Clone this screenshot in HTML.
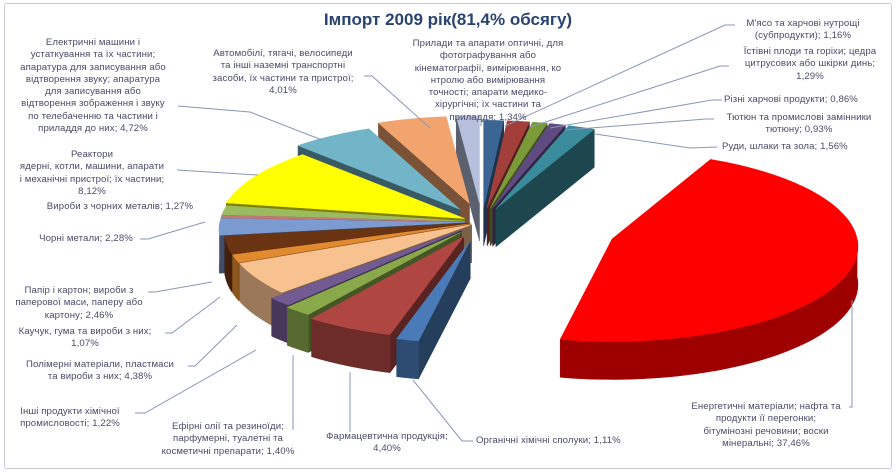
<!DOCTYPE html>
<html><head><meta charset="utf-8">
<style>
html,body{margin:0;padding:0;background:#fff;}
#wrap{position:relative;width:896px;height:473px;overflow:hidden;font-family:"Liberation Sans","DejaVu Sans",sans-serif;}
#frame{position:absolute;left:4px;top:3px;width:886px;height:464px;border:1.5px solid #c9ccd8;border-radius:3px;}
.lbl{position:absolute;font-size:9.6px;line-height:12.3px;color:#4a4a68;text-align:center;white-space:nowrap;letter-spacing:0.1px;}
#title{position:absolute;left:0;width:896px;top:10px;text-align:center;font-weight:bold;font-size:17px;color:#2a4470;}
svg{position:absolute;left:0;top:0;}
</style></head>
<body>
<div id="wrap">
<div id="frame"></div>
<div id="title">Імпорт 2009 рік(81,4% обсягу)</div>
<svg id="pie" width="896" height="473"></svg>

<div class="lbl" style="left:4px;top:37px;width:178px;">Електричні машини і<br>устаткування та їх частини;<br>апаратура для записування або<br>відтворення звуку; апаратура<br>для записування або<br>відтворення зображення і звуку<br>по телебаченню та частини і<br>приладдя до них; 4,72%</div>
<div class="lbl" style="left:198px;top:48px;width:170px;">Автомобілі, тягачі, велосипеди<br>та інші наземні транспортні<br>засоби, їх частини та пристрої;<br>4,01%</div>
<div class="lbl" style="left:398px;top:38px;width:180px;">Прилади та апарати оптичні, для<br>фотографування або<br>кінематографії, вимірювання,  ко<br>нтролю або вимірювання<br>точності; апарати медико-<br>хірургічні; їх частини та<br>приладдя; 1,34%</div>
<div class="lbl" style="left:728px;top:18px;width:150px;">М'ясо та харчові нутрощі<br>(субпродукти); 1,16%</div>
<div class="lbl" style="left:728px;top:46px;width:164px;">Їстівні плоди та горіхи; цедра<br>цитрусових або шкірки динь;<br>1,29%</div>
<div class="lbl" style="left:724px;top:94px;width:160px;text-align:left;">Різні харчові продукти; 0,86%</div>
<div class="lbl" style="left:716px;top:112px;width:166px;">Тютюн та промислові замінники<br>тютюну; 0,93%</div>
<div class="lbl" style="left:722px;top:141px;width:160px;text-align:left;">Руди, шлаки та зола; 1,56%</div>
<div class="lbl" style="left:680px;top:401px;width:172px;">Енергетичні матеріали;  нафта та<br>продукти її перегонки;<br>бітумінозні речовини;  воски<br>мінеральні; 37,46%</div>
<div class="lbl" style="left:476px;top:435px;width:180px;text-align:left;">Органічні хімічні сполуки; 1,11%</div>
<div class="lbl" style="left:312px;top:431px;width:150px;">Фармацевтична продукція;<br>4,40%</div>
<div class="lbl" style="left:152px;top:421px;width:152px;">Ефірні олії та резиноїди;<br>парфумерні, туалетні та<br>косметичні препарати;  1,40%</div>
<div class="lbl" style="left:8px;top:406px;width:124px;">Інші продукти хімічної<br>промисловості; 1,22%</div>
<div class="lbl" style="left:12px;top:359px;width:176px;">Полімерні матеріали, пластмаси<br>та вироби з них; 4,38%</div>
<div class="lbl" style="left:4px;top:326px;width:162px;">Каучук, гума та вироби з них;<br>1,07%</div>
<div class="lbl" style="left:6px;top:285px;width:146px;">Папір і картон; вироби з<br>паперової маси, паперу або<br>картону; 2,46%</div>
<div class="lbl" style="left:26px;top:233px;width:120px;">Чорні метали; 2,28%</div>
<div class="lbl" style="left:30px;top:201px;width:180px;">Вироби з чорних металів; 1,27%</div>
<div class="lbl" style="left:4px;top:149px;width:176px;">Реактори<br>ядерні, котли, машини, апарати<br>і механічні пристрої; їх частини;<br>8,12%</div>
</div>
<script>
const categories = ["М'ясо","Їстівні плоди","Різні харчові","Тютюн","Руди","Енергетичні","Органічні","Фармацевтична","Ефірні олії","Інші хімічні","Полімерні","Каучук","Папір","Чорні метали","Інше","Вироби з чорних","Реактори","Електричні","Автомобілі","Прилади"];
const values = [1.16,1.29,0.86,0.93,1.56,37.46,1.11,4.40,1.40,1.22,4.38,1.07,2.46,2.28,0.36,1.27,8.12,4.72,4.01,1.34];
const colors = ["#3b6593","#a23f3b","#7b9b3a","#5f4a82","#3a8c9c","#ff0000","#4a7bb8","#b04642","#8aa94a","#725a92","#f8c190","#e28a30","#6a3312","#7c9bd0","#c47878","#9bbb60","#ffff00","#72b4c8","#f2a46e","#b6c0dc"];
const explode = [0.15,0.15,0.15,0.15,0.15,0.56,0.2,0.17,0.14,0.12,0.05,0.05,0.05,0.07,0.07,0.07,0.08,0.16,0.2,0.2];

const svg=document.getElementById('pie');
const NS='http://www.w3.org/2000/svg';
const cx=482, cy=222, rx=245, ry=95, persp=0.08, depth=38;
function P(x0,y0,th){const r=th*Math.PI/180;const s=1-persp*Math.cos(r);return [x0+rx*s*Math.sin(r), y0-ry*s*Math.cos(r)];}
function shade(hex,f){const n=parseInt(hex.slice(1),16);const r=Math.round(((n>>16)&255)*f),g=Math.round(((n>>8)&255)*f),b=Math.round((n&255)*f);return 'rgb('+r+','+g+','+b+')';}
function poly(pts,fill,name){const p=document.createElementNS(NS,'polygon');p.setAttribute('points',pts.map(q=>q[0].toFixed(1)+','+q[1].toFixed(1)).join(' '));p.setAttribute('fill',fill);p.setAttribute('stroke',fill);p.setAttribute('stroke-width','0.5');


return p;}
const total=values.reduce((a,b)=>a+b,0);
let acc=0;const slices=[];
values.forEach((v,i)=>{const a0=acc/total*360;acc+=v;const a1=acc/total*360;slices.push({i,a0,a1,mid:(a0+a1)/2});});
slices.sort((A,B)=>Math.cos(B.mid*Math.PI/180)-Math.cos(A.mid*Math.PI/180));
slices.forEach(s=>{
  const g=document.createElementNS(NS,'g');
  
  
  const e=explode[s.i], m=s.mid*Math.PI/180;
  const X=cx+e*rx*Math.sin(m), Y=cy-e*ry*Math.cos(m);
  const col=colors[s.i];
  const sa=Math.sin(s.a0*Math.PI/180), sb=Math.sin(s.a1*Math.PI/180);
  if(sa<-0.001){const p=P(X,Y,s.a0);g.appendChild(poly([[X,Y],p,[p[0],p[1]+depth],[X,Y+depth]],shade(col,0.5),'slice-wall'));}
  if(sb>0.001){const p=P(X,Y,s.a1);g.appendChild(poly([[X,Y],p,[p[0],p[1]+depth],[X,Y+depth]],shade(col,0.5),'slice-wall'));}
  const f0=Math.max(s.a0,90), f1=Math.min(s.a1,270);
  if(f1>f0){const top=[],bot=[];const n=Math.max(2,Math.ceil((f1-f0)/2));
    for(let k=0;k<=n;k++){const t=f0+(f1-f0)*k/n;const p=P(X,Y,t);top.push(p);bot.push([p[0],p[1]+depth]);}
    g.appendChild(poly(top.concat(bot.reverse()),shade(col,0.62),'slice-side'));}
  const pts=[[X,Y]];const n=Math.max(2,Math.ceil((s.a1-s.a0)/2));
  for(let k=0;k<=n;k++){pts.push(P(X,Y,s.a0+(s.a1-s.a0)*k/n));}
  g.appendChild(poly(pts,col,'slice-top'));
  svg.appendChild(g);
});
const leaders=[[[178,106],[250,112],[322,140]],[[364,76],[372,76],[430,128]],[[481,118],[481,126]],[[735,25],[725,25],[505,126]],[[729,66],[720,66],[530,127]],[[722,100],[712,100],[550,128]],[[714,119],[706,119],[565,130]],[[717,147],[690,148],[595,134]],[[849,407],[852,407],[852,300]],[[473,441],[462,441],[413,380]],[[350,432],[350,372]],[[293,430],[293,355]],[[135,413],[145,413],[256,350]],[[188,366],[195,366],[237,325]],[[165,333],[172,333],[220,297]],[[148,292],[155,292],[212,282]],[[140,239],[148,239],[205,222]],[[258,175],[177,170]]];
leaders.forEach(l=>{const p=document.createElementNS(NS,'polyline');p.setAttribute('points',l.map(q=>q.join(',')).join(' '));p.setAttribute('fill','none');p.setAttribute('stroke','#8a96b8');p.setAttribute('stroke-width','1');


svg.appendChild(p);});
</script>
</body></html>
